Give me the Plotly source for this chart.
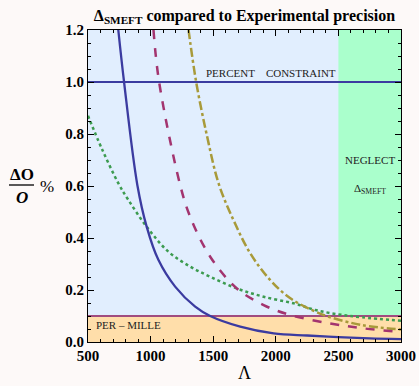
import plotly.graph_objects as go

# ---- data ----
blue_x = [742, 788, 894, 969, 1063, 1196, 1356, 1476, 1716, 1983, 2250, 2500, 2750, 3000]
blue_y = [1.2, 1.0, 0.604, 0.443, 0.315, 0.213, 0.136, 0.1, 0.059, 0.033, 0.025, 0.019, 0.014, 0.011]

mag_x = [1023, 1068, 1236, 1316, 1476, 1689, 1903, 2116, 2423, 2690, 3000]
mag_y = [1.2, 1.0, 0.604, 0.482, 0.328, 0.206, 0.142, 0.104, 0.072, 0.053, 0.038]

olive_x = [1303, 1364, 1449, 1543, 1662, 1796, 1956, 2116, 2316, 2423, 2690, 3000]
olive_y = [1.2, 1.0, 0.796, 0.61, 0.469, 0.341, 0.238, 0.168, 0.117, 0.097, 0.065, 0.048]

green_x = [500, 609, 743, 823, 969, 1143, 1316, 1476, 1689, 1903, 2156, 2316, 2503, 2690, 3000]
green_y = [0.87, 0.745, 0.61, 0.546, 0.443, 0.347, 0.29, 0.251, 0.206, 0.174, 0.147, 0.123, 0.106, 0.095, 0.082]

percent_level = 1.0
permille_level = 0.1
neglect_start = 2500
x_range = [500, 3000]
y_range = [0.0, 1.2]
x_ticks = [500, 1000, 1500, 2000, 2500, 3000]
y_ticks = [0.0, 0.2, 0.4, 0.6, 0.8, 1.0, 1.2]

# ---- figure ----
SERIF = "Liberation Serif, Times New Roman, serif"
fig = go.Figure()

# shaded regions
fig.add_shape(type="rect", xref="x", yref="y", x0=x_range[0], x1=neglect_start,
              y0=permille_level, y1=y_range[1], fillcolor="#E1EEFE", line_width=0, layer="below")
fig.add_shape(type="rect", xref="x", yref="y", x0=neglect_start, x1=x_range[1],
              y0=permille_level, y1=y_range[1], fillcolor="#AAFFCC", line_width=0, layer="below")
fig.add_shape(type="rect", xref="x", yref="y", x0=x_range[0], x1=x_range[1],
              y0=y_range[0], y1=permille_level, fillcolor="#FFDEAA", line_width=0, layer="below")

# constraint lines
fig.add_trace(go.Scatter(x=x_range, y=[percent_level, percent_level], mode="lines",
                         line=dict(color="#3B3BA0", width=2.2), showlegend=False))
fig.add_trace(go.Scatter(x=x_range, y=[permille_level, permille_level], mode="lines",
                         line=dict(color="#A04C80", width=2.2), showlegend=False))

# curves
fig.add_trace(go.Scatter(x=green_x, y=green_y, mode="lines", line_shape="spline",
                         line=dict(color="#3C9B50", width=2.5, dash="dot"), showlegend=False))
fig.add_trace(go.Scatter(x=olive_x, y=olive_y, mode="lines", line_shape="spline",
                         line=dict(color="#A89A3A", width=2.5, dash="dashdot"), showlegend=False))
fig.add_trace(go.Scatter(x=mag_x, y=mag_y, mode="lines", line_shape="spline",
                         line=dict(color="#A3346F", width=2.5, dash="dash"), showlegend=False))
fig.add_trace(go.Scatter(x=blue_x, y=blue_y, mode="lines", line_shape="spline",
                         line=dict(color="#3B3BA0", width=2.3), showlegend=False))

# in-plot text
txt = dict(family=SERIF, size=11, color="#222222")
fig.add_annotation(x=1964, y=1.0, yanchor="bottom", yshift=1, text="PERCENT&nbsp;&nbsp;&nbsp;&nbsp;CONSTRAINT",
                   showarrow=False, font=txt)
fig.add_annotation(x=820, y=0.065, text="PER \u2013 MILLE", showarrow=False, font=txt)
fig.add_annotation(x=2752, y=0.70, text="NEGLECT", showarrow=False, font=txt)
fig.add_annotation(x=2752, y=0.59, text="\u0394<sub>SMEFT</sub>", showarrow=False, font=txt)

# y-axis fraction label
W, H = 313.0, 312.0
def px(xp):
    return (xp - 88) / W
def py(yp):
    return (342 - yp) / H
lab = dict(family=SERIF, size=17, color="black", weight="bold")
fig.add_annotation(xref="paper", yref="paper", x=px(21.5), y=py(174), text="\u0394O",
                   xanchor="center", yanchor="middle", showarrow=False, font=lab)
fig.add_annotation(xref="paper", yref="paper", x=px(21.5), y=py(197), text="<i>O</i>",
                   xanchor="center", yanchor="middle", showarrow=False, font=lab)
fig.add_annotation(xref="paper", yref="paper", x=px(46.5), y=py(186), text="%",
                   xanchor="center", yanchor="middle", showarrow=False,
                   font=dict(family=SERIF, size=17, color="black"))
fig.add_shape(type="line", xref="paper", yref="paper", x0=px(9), x1=px(34),
              y0=py(185), y1=py(185), line=dict(color="black", width=1.3))

# x-axis label
fig.add_annotation(xref="paper", yref="paper", x=px(244), y=py(361), yanchor="top",
                   xanchor="center", text="\u039b", showarrow=False,
                   font=dict(family=SERIF, size=18, color="black"))

tickfont = dict(family=SERIF, size=15, color="black", weight="bold")
fig.update_xaxes(range=x_range, tickvals=x_ticks, ticktext=[str(v) for v in x_ticks],
                 ticks="inside", ticklen=6, tickcolor="black", showline=True, linecolor="black",
                 linewidth=1, mirror="allticks", showgrid=False, zeroline=False, tickfont=tickfont,
                 automargin=False,
                 minor=dict(dtick=100, ticks="inside", ticklen=3, tickcolor="black"))
fig.update_yaxes(range=y_range, tickvals=y_ticks, ticktext=[f"{v:.1f}" for v in y_ticks],
                 ticks="inside", ticklen=6, tickcolor="black", showline=True, linecolor="black",
                 linewidth=1, mirror="allticks", showgrid=False, zeroline=False, tickfont=tickfont,
                 automargin=False,
                 minor=dict(dtick=0.05, ticks="inside", ticklen=3, tickcolor="black"))

fig.update_layout(
    width=419, height=386,
    margin=dict(l=88, r=18, t=30, b=44, autoexpand=False),
    paper_bgcolor="#FDF9F8", plot_bgcolor="#E1EEFE",
    title=dict(text="\u0394<sub>SMEFT</sub> compared to Experimental precision",
               x=(88 + 401) / 2 / 419, xanchor="center", y=1 - 15 / 386, yanchor="middle",
               font=dict(family=SERIF, size=16, color="black", weight="bold")),
)

fig.write_html("out.html")
